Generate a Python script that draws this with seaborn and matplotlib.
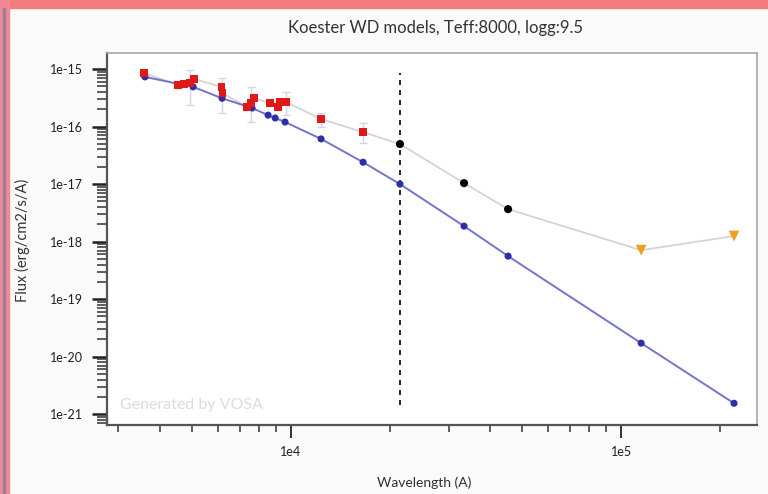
import numpy as np
import pandas as pd
import matplotlib
matplotlib.use("Agg")
import matplotlib.pyplot as plt
import seaborn as sns
from matplotlib.ticker import FixedLocator, LogLocator, NullFormatter, FuncFormatter
from matplotlib.patches import Rectangle

# ---- data ----
model_wave = [3610, 5050, 6180, 7620, 8520, 8950, 9590, 12330, 16530, 21380,
              33430, 45450, 115000, 219800]
model_flux = [7.3e-16, 4.9e-16, 3.1e-16, 2.1e-16, 1.58e-16, 1.41e-16, 1.2e-16,
              6.1e-17, 2.4e-17, 1.0e-17, 1.86e-18, 5.6e-19, 1.72e-20, 1.55e-21]

obs_wave = [3585, 4545, 4740, 4940, 5090, 6160, 6200, 7360, 7570, 7730,
            8630, 9130, 9260, 9660, 12330, 16530]
obs_flux = [8.5e-16, 5.3e-16, 5.5e-16, 5.7e-16, 6.7e-16, 4.9e-16, 3.8e-16,
            2.18e-16, 2.56e-16, 3.13e-16, 2.56e-16, 2.18e-16, 2.67e-16,
            2.67e-16, 1.35e-16, 8.0e-17]

err_wave = [4940, 6160, 7570, 9660, 12330, 16530]
err_flux = [5.7e-16, 4.9e-16, 2.56e-16, 2.67e-16, 1.35e-16, 8.0e-17]
err_lo = [2.37e-16, 1.72e-16, 1.2e-16, 1.58e-16, 9.8e-17, 5.2e-17]
err_hi = [9.6e-16, 7.0e-16, 4.87e-16, 3.98e-16, 1.72e-16, 1.15e-16]

excess_wave = [21380, 33430, 45450]
excess_flux = [4.97e-17, 1.04e-17, 3.67e-18]

uplim_wave = [115000, 219800]
uplim_flux = [7.1e-19, 1.25e-18]

excess_start = 21380
dash_ymin, dash_ymax = 1.43e-21, 8.5e-16

x_limits = (2770, 2.58e5)
y_limits = (6.5e-22, 1.9e-15)
y_major = [1e-21, 1e-20, 1e-19, 1e-18, 1e-17, 1e-16, 1e-15]
x_major = [1e4, 1e5]

title = "Koester WD models, Teff:8000, logg:9.5"

# ---- style ----
sns.set_style("white")
plt.rcParams['font.family'] = ['Lato', 'DejaVu Sans']

fig = plt.figure(figsize=(7.68, 4.94), dpi=100, facecolor='#fafafa')
# decorative frame of the screenshot
fig.patches.append(Rectangle((0, 1 - 8 / 494), 1, 8 / 494, transform=fig.transFigure,
                             color='#f47c80', zorder=0))
fig.patches.append(Rectangle((0, 0), 9 / 768, 1, transform=fig.transFigure,
                             color='#ef8a92', zorder=0))
fig.patches.append(Rectangle((3 / 768, 0), 2 / 768, 1 - 8 / 494, transform=fig.transFigure,
                             color='#a07c9c', zorder=0))

ax = fig.add_axes([107 / 768, 1 - 425 / 494, 650 / 768, 372 / 494])
ax.set_facecolor('white')
ax.set_xscale('log')
ax.set_yscale('log')

all_obs = pd.DataFrame({
    'wave': obs_wave + excess_wave + uplim_wave,
    'flux': obs_flux + excess_flux + uplim_flux,
}).sort_values('wave')

# gray line through observed SED
sns.lineplot(data=all_obs, x='wave', y='flux', ax=ax, color='#d4d4d4', lw=1.3,
             estimator=None, sort=False, zorder=2)

# error bars
ef = np.array(err_flux)
ax.errorbar(err_wave, err_flux, yerr=[ef - np.array(err_lo), np.array(err_hi) - ef],
            fmt='none', ecolor='#d2d5e6', elinewidth=1, capsize=3, zorder=1)

# model
mdf = pd.DataFrame({'wave': model_wave, 'flux': model_flux})
sns.lineplot(data=mdf, x='wave', y='flux', ax=ax, color='#7474c8', lw=1.4,
             estimator=None, sort=False, zorder=3)
sns.scatterplot(data=mdf, x='wave', y='flux', ax=ax, color='#2e2ea8', s=26,
                edgecolor='none', zorder=4)

# observed photometry
odf = pd.DataFrame({'wave': obs_wave, 'flux': obs_flux})
sns.scatterplot(data=odf, x='wave', y='flux', ax=ax, color='#e01818', marker='s',
                s=30, edgecolor='none', zorder=5)
edf = pd.DataFrame({'wave': excess_wave, 'flux': excess_flux})
sns.scatterplot(data=edf, x='wave', y='flux', ax=ax, color='black', marker='o',
                s=34, edgecolor='none', zorder=5)
udf = pd.DataFrame({'wave': uplim_wave, 'flux': uplim_flux})
sns.scatterplot(data=udf, x='wave', y='flux', ax=ax, color='#f0a020', marker='v',
                s=60, edgecolor='none', zorder=5)

ax.vlines(excess_start, dash_ymin, dash_ymax, colors='black', linestyles=(0, (3, 3)),
          lw=1.2, zorder=2)

ax.set_xlim(*x_limits)
ax.set_ylim(*y_limits)

ax.yaxis.set_major_locator(FixedLocator(y_major))
ax.yaxis.set_minor_locator(LogLocator(base=10, subs=np.arange(2, 10), numticks=20))
ax.yaxis.set_minor_formatter(NullFormatter())
ax.yaxis.set_major_formatter(FuncFormatter(lambda v, p: "1e%d" % round(np.log10(v))))
ax.xaxis.set_major_locator(FixedLocator(x_major))
ax.xaxis.set_minor_locator(LogLocator(base=10, subs=np.arange(2, 10), numticks=20))
ax.xaxis.set_minor_formatter(NullFormatter())
ax.xaxis.set_major_formatter(FuncFormatter(lambda v, p: "1e%d" % round(np.log10(v))))

ax.tick_params(axis='y', which='major', direction='out', length=11, width=1.8,
               pad=6, labelsize=9, colors='#222222', left=True)
ax.tick_params(axis='y', which='minor', direction='out', length=7, width=1.1,
               colors='#333333', left=True)
ax.tick_params(axis='x', which='major', direction='out', length=9, width=1.3,
               pad=6, labelsize=9, colors='#222222', bottom=True)
ax.tick_params(axis='x', which='minor', direction='out', length=5, width=1.1,
               colors='#333333', bottom=True)

for s in ['left', 'bottom']:
    ax.spines[s].set_color('#555555')
    ax.spines[s].set_linewidth(1.6)
for s in ['top', 'right']:
    ax.spines[s].set_color('#a8a8a8')
    ax.spines[s].set_linewidth(1.2)

ax.set_xlabel('')
ax.set_ylabel('')
fig.text(435 / 768, 1 - 28 / 494, title, ha='center', va='center', fontsize=12,
         color='#333333')
fig.text(424 / 768, 1 - 483 / 494, "Wavelength (A)", ha='center', va='center',
         fontsize=10, color='#333333')
fig.text(22 / 768, 1 - 240 / 494, "Flux (erg/cm2/s/A)", ha='center', va='center',
         rotation=90, fontsize=10.5, color='#333333')
ax.text(0.02, 0.055, "Generated by VOSA", transform=ax.transAxes, fontsize=11.5,
        color='#dcdcdc', ha='left', va='center')

fig.savefig("out.png", dpi=100, facecolor=fig.get_facecolor())
